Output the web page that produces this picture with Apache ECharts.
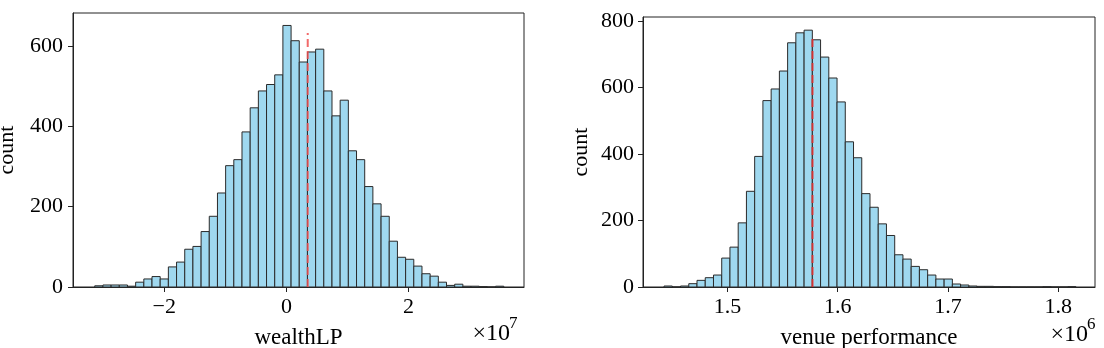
<!DOCTYPE html>
<html>
<head>
<meta charset="utf-8">
<script src="https://cdn.jsdelivr.net/npm/echarts@6/dist/echarts.min.js"></script>
<style>
html,body{margin:0;padding:0;background:#fff;}
#chart{width:1104px;height:348px;}
</style>
</head>
<body>
<div id="chart"></div>
<script>
// ---- Data ----
// Left histogram: wealthLP, x in units of 1e7
const wealthBinStart = -3.137;
const wealthBinWidth = 0.1339;
const wealthCounts = [3,5,5,5,2,12,20,26,20,50,62,94,101,138,176,234,302,317,386,446,488,504,528,651,613,560,585,592,488,426,465,339,317,250,207,176,114,74,69,52,33,27,12,4,7,2,2,1,0,2];
const wealthMarker = 0.349;
const wealthMarkerTop = 632;
const wealthTicks = [-2, 0, 2];
const wealthYTicks = [0, 200, 400, 600];

// Right histogram: venue performance, x in units of 1e6
const venueBinStart = 1.4425;
const venueBinWidth = 0.00747;
const venueCounts = [3,0,3,10,20,28,36,87,120,193,288,393,561,596,650,735,765,773,744,692,629,557,437,389,281,240,190,155,97,84,62,52,36,24,24,9,6,3,2,2,1,1,0,0,0,0,1,0,0,1];
const venueMarker = 1.5771;
const venueMarkerTop = 748;
const venueTicks = [1.5, 1.6, 1.7, 1.8];
const venueYTicks = [0, 200, 400, 600, 800];

const leftXLabel = 'wealthLP';
const rightXLabel = 'venue performance';
const yLabel = 'count';
const leftExponent = '7';
const rightExponent = '6';

// ---- Build ----
function bins(start, width, counts) {
  return counts.map((c, i) => [start + i * width, start + (i + 1) * width, c]);
}
const FONT = '"Liberation Serif", "DejaVu Serif", serif';
const BAR_FILL = '#9fd8ef';
const BAR_EDGE = '#2a2a2a';

function renderBar(params, api) {
  const p0 = api.coord([api.value(0), 0]);
  const p1 = api.coord([api.value(1), api.value(2)]);
  return {
    type: 'rect',
    shape: { x: p0[0], y: p1[1], width: p1[0] - p0[0], height: p0[1] - p1[1] },
    style: { fill: BAR_FILL, stroke: BAR_EDGE, lineWidth: 1 }
  };
}

function xAxis(gridIndex, min, max, ticks, fmt, name) {
  return {
    type: 'value', gridIndex, min, max,
    axisLine: { show: true, onZero: false, lineStyle: { color: '#222', width: 1 } },
    axisTick: { show: true, inside: false, length: 5, customValues: ticks, lineStyle: { color: '#222' } },
    axisLabel: { customValues: ticks, formatter: fmt, color: '#000', fontFamily: FONT, fontSize: 22, margin: 9 },
    splitLine: { show: false },
    name, nameLocation: 'middle', nameGap: 39,
    nameTextStyle: { color: '#000', fontFamily: FONT, fontSize: 23 }
  };
}
function yAxis(gridIndex, max, ticks, gap, margin) {
  return {
    type: 'value', gridIndex, min: 0, max,
    axisLine: { show: true, onZero: false, lineStyle: { color: '#222', width: 1 } },
    axisTick: { show: true, inside: false, length: 5, customValues: ticks, lineStyle: { color: '#222' } },
    axisLabel: { customValues: ticks, color: '#000', fontFamily: FONT, fontSize: 22, margin },
    splitLine: { show: false },
    name: yLabel, nameLocation: 'middle', nameRotate: 90, nameGap: gap,
    nameTextStyle: { color: '#000', fontFamily: FONT, fontSize: 22 }
  };
}
function offsetText(rightX, midY, exp) {
  return [
    { type: 'text', x: rightX - 7, y: midY, z: 10,
      style: { text: '×10', fontFamily: FONT, fontSize: 24, fill: '#000', align: 'right', verticalAlign: 'middle' } },
    { type: 'text', x: rightX - 8, y: midY - 10, z: 10,
      style: { text: exp, fontFamily: FONT, fontSize: 17, fill: '#000', align: 'left', verticalAlign: 'middle' } }
  ];
}

const chart = echarts.init(document.getElementById('chart'), null, { renderer: 'canvas' });
chart.setOption({
  animation: false,
  backgroundColor: '#fff',
  grid: [
    { left: 73, right: 580, top: 13, bottom: 61, show: true, borderColor: '#222', borderWidth: 1, containLabel: false, outerBoundsMode: 'none' },
    { left: 643, right: 9, top: 17, bottom: 61, show: true, borderColor: '#222', borderWidth: 1, containLabel: false, outerBoundsMode: 'none' }
  ],
  xAxis: [
    xAxis(0, -3.493, 3.889, wealthTicks, v => (v < 0 ? '\u2212' + Math.abs(v) : String(v)), leftXLabel),
    xAxis(1, 1.4234, 1.8333, venueTicks, v => v.toFixed(1), rightXLabel)
  ],
  yAxis: [
    yAxis(0, 682, wealthYTicks, 55, 10),
    yAxis(1, 812.6, venueYTicks, 51, 9)
  ],
  series: [
    { type: 'custom', xAxisIndex: 0, yAxisIndex: 0, renderItem: renderBar,
      encode: { x: [0, 1], y: 2 }, data: bins(wealthBinStart, wealthBinWidth, wealthCounts) },
    { type: 'line', xAxisIndex: 0, yAxisIndex: 0, symbol: 'none', z: 5,
      lineStyle: { color: 'rgba(240,80,80,0.85)', width: 2, type: [8, 4] },
      data: [[wealthMarker, 0], [wealthMarker, wealthMarkerTop]] },
    { type: 'custom', xAxisIndex: 1, yAxisIndex: 1, renderItem: renderBar,
      encode: { x: [0, 1], y: 2 }, data: bins(venueBinStart, venueBinWidth, venueCounts) },
    { type: 'line', xAxisIndex: 1, yAxisIndex: 1, symbol: 'none', z: 5,
      lineStyle: { color: 'rgba(225,50,50,0.9)', width: 2, type: [8, 4] },
      data: [[venueMarker, 0], [venueMarker, venueMarkerTop]] }
  ],
  graphic: [].concat(offsetText(517, 334, leftExponent), offsetText(1095, 335, rightExponent))
});
</script>
</body>
</html>
